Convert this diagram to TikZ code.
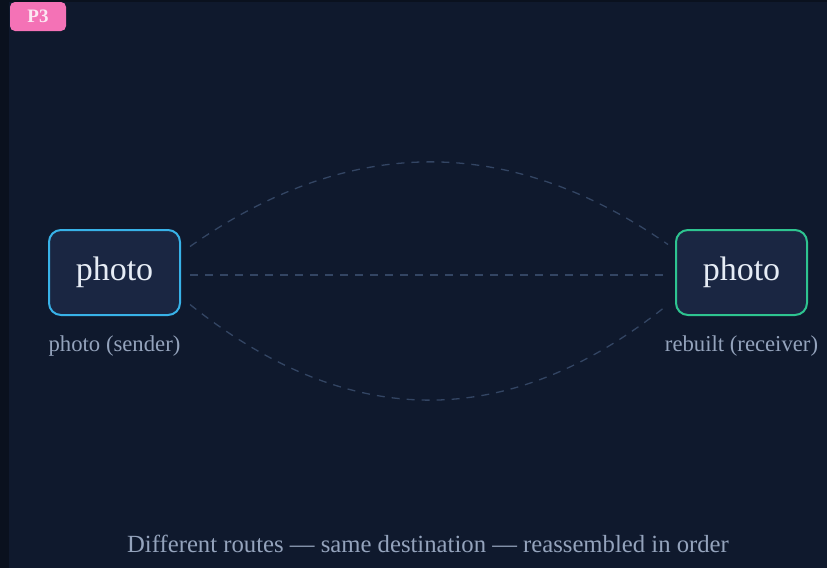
\documentclass[tikz,border=0pt]{standalone}
\usepackage{fontspec}
\setmainfont{Liberation Serif}
\definecolor{bg}{HTML}{0F192D}
\definecolor{bgedge}{HTML}{0A111E}
\definecolor{boxfill}{HTML}{1A2642}
\definecolor{sendc}{HTML}{38B2E8}
\definecolor{recvc}{HTML}{2EC490}
\definecolor{txt}{HTML}{E6ECF5}
\definecolor{lab}{HTML}{94A3BC}
\definecolor{route}{HTML}{334563}
\definecolor{badge}{HTML}{F472B6}
\definecolor{badgetxt}{HTML}{FCE7F3}
\begin{document}
\begin{tikzpicture}[x=1pt,y=-1pt,
  box/.style={draw, line width=2pt, fill=boxfill, rounded corners=12pt, minimum width=131pt, minimum height=85pt, inner sep=0pt, text=txt, font=\fontsize{34}{34}\selectfont},
  lbl/.style={text=lab, font=\fontsize{22.7}{22.7}\selectfont, inner sep=0pt},
  routeline/.style={draw=route, line width=1.3pt, dash pattern=on 8pt off 7pt}]
\useasboundingbox (0,0) rectangle (827,568);
\fill[bg] (0,0) rectangle (827,568);
\fill[bgedge] (0,0) rectangle (9,568);
\fill[bgedge] (0,0) rectangle (827,1.5);
\node[fill=badge, rounded corners=5pt, minimum width=56pt, minimum height=29pt, inner sep=0pt, text=badgetxt, font=\bfseries\fontsize{19}{19}\selectfont] (badge) at (38,16.5) {P3};
\node[box, draw=sendc] (send) at (114.5,272.5) {photo};
\node[box, draw=recvc] (recv) at (741.5,272.5) {photo};
\node[lbl] (sendl) at (114.5,346) {photo (sender)};
\node[lbl] (recvl) at (741.5,346) {rebuilt (receiver)};
\node[text=lab, font=\fontsize{24.7}{24.7}\selectfont, inner sep=0pt] (cap) at (428,544) {Different routes — same destination — reassembled in order};
\coordinate (a1) at ([shift={(9,-26)}]send.east);
\coordinate (a2) at ([shift={(9,2.5)}]send.east);
\coordinate (a3) at ([shift={(9,32)}]send.east);
\coordinate (b1) at ([shift={(-7,-28)}]recv.west);
\coordinate (b2) at ([shift={(-7,2.5)}]recv.west);
\coordinate (b3) at ([shift={(-7,32)}]recv.west);
\draw[routeline] (a1) .. controls (350,134) and (509,134) .. (b1);
\draw[routeline] (a2) -- (b2);
\draw[routeline] (a3) .. controls (350,432) and (509,432) .. (b3);
\end{tikzpicture}
\end{document}
